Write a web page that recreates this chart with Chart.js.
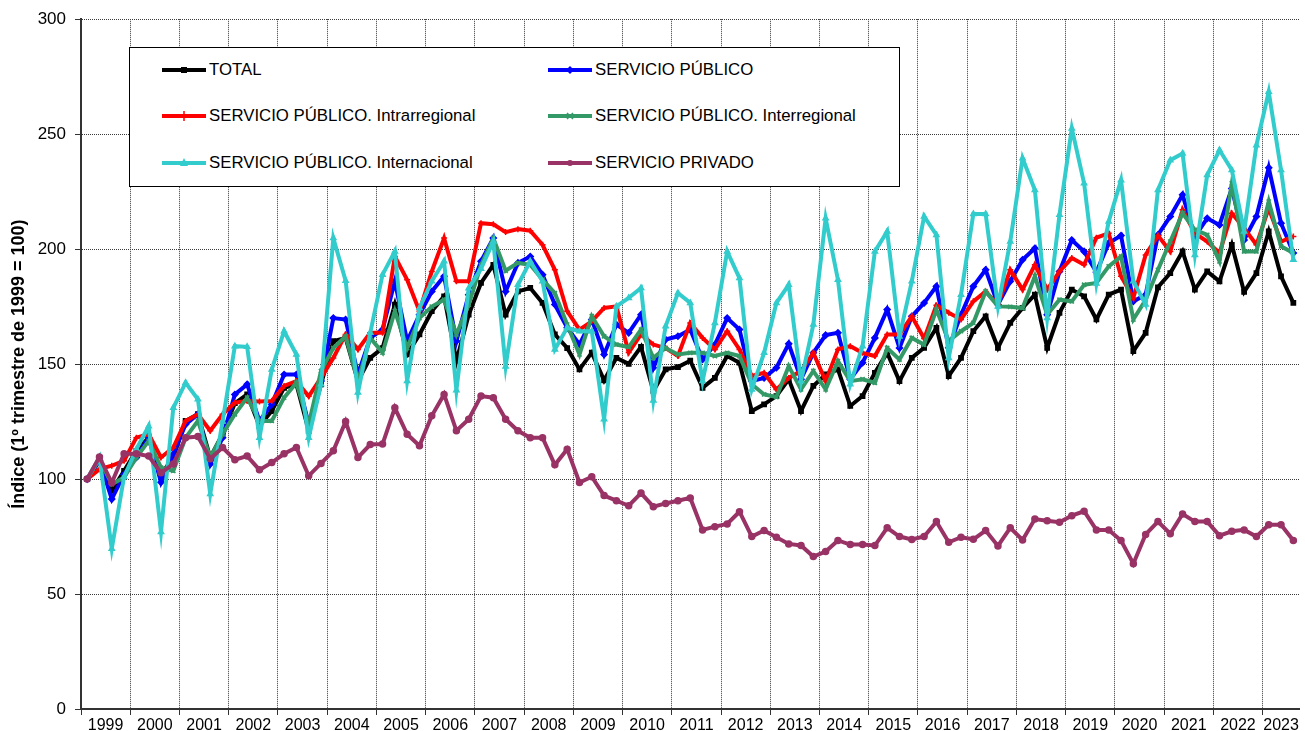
<!DOCTYPE html>
<html>
<head>
<meta charset="utf-8">
<script src="https://cdn.jsdelivr.net/npm/chart.js@4/dist/chart.umd.min.js"></script>
<style>
html,body{margin:0;padding:0;background:#fff;}
#wrap{position:relative;width:1305px;height:731px;}
#legend{position:absolute;left:129px;top:47px;width:769px;height:138px;border:1px solid #000;background:#fff;
 font-family:"Liberation Sans",Arial,sans-serif;font-size:16.8px;color:#000;}
.item{position:absolute;display:flex;align-items:center;white-space:nowrap;height:20px;}
.item svg{margin-right:3px;}
</style>
</head>
<body>
<div id="wrap">
<canvas id="c" width="1305" height="731"></canvas>
<div id="legend"></div>
</div>
<script>
// años (etiquetas del eje X), un dato por trimestre desde I-1999 hasta III-2023
let years=["1999","2000","2001","2002","2003","2004","2005","2006","2007","2008","2009","2010",
 "2011","2012","2013","2014","2015","2016","2017","2018","2019","2020","2021","2022","2023"];

let total=[
 100,108,95,103.6, 112.3,118,102,109.4, 125.3,128.2,109.4,119.5, 133,136.8,123,129.6,
 139.7,141.2,121,141.2, 160,161.4,142.6,152.7, 157,175.9,154.2,162.9, 173,179.5,151.3,171.5,
 185.3,193.2,171.5,181.6, 183.1,176.6,162.9,157, 147.7,155,142.9,152.7, 150.1,157.5,138.3,147.7,
 148.7,151.5,139.7,144, 153.5,150.6,129.6,132.5, 136.1,143.4,129.6,140.5, 145.5,147.7,131.8,136.1,
 146.2,154.9,142.6,152.7, 157.1,165.8,144.8,152.7, 164.3,170.8,157.1,167.9, 174.4,180.2,157.1,172.3,
 182.4,179.5,169.4,180.2, 182.4,155.6,163.6,183.4, 189.6,199,182.4,190.3, 186,201.9,181.4,189.6,
 207.7,188.2,176.6];
let publico=[
 100,108,91.3,102, 109.4,118,98.6,110.8, 123.8,128.2,106.5,118, 136.8,141.2,125.3,132.5,
 145.5,145.5,123.8,142.6, 170,169.4,145.5,161.4, 165,186,160,171.5, 181.6,188.2,160,180.2,
 194.7,204.8,181.6,194, 196.8,188.9,175.9,165.8, 158.5,169.4,154.2,167.2, 163.6,171.5,148.4,160.7,
 162.1,165,152,158.5, 170,165,142.6,144, 148.4,158.8,143.4,154.9, 162.6,163.6,143.4,150.6,
 161.4,173.7,157,170.8, 176.6,183.8,157.1,171.5, 183.8,191,175.9,186, 195.4,200.4,171.5,190.3,
 204,199,190,202.6, 205.9,177.3,180.2,206.2, 214.2,223.6,205.5,213.4, 210.5,226.4,204,214.2,
 235.4,211.3,198.3];
let intra=[
 100,104.3,105.8,108, 118,119.5,109.4,113.7, 125.3,128.2,121,128.2, 133.2,134,133.7,134,
 140.5,142.6,136,144, 152.7,162.9,156.4,163.6, 163.6,196.8,186.7,173, 190.3,204.8,186,186,
 211.3,210.8,207.4,208.7, 208,201.9,191,173, 165,168.6,174.4,175.1, 155,162.9,158.5,157,
 153.5,167.9,161.4,156.4, 164.3,156.4,144.8,146.2, 139,144,147,154.9, 142.6,156.4,157.8,154.9,
 153.5,162.9,162.9,170.8, 161.1,175.6,172.3,169.4, 177.3,181.6,175.9,191, 182.4,193.2,182.4,190.3,
 196.1,193.2,205,206.9, 188.2,178.8,197.5,205.9, 199,217.1,206.9,203.3, 198.3,215.6,209.1,201.9,
 217.8,203.3,205.5];
let inter=[
 100,108.7,97.8,100.7, 109.4,116.6,105,103.6, 118,125.3,109.4,119.5, 128.2,135.4,125.3,125.3,
 135.4,141.9,123.8,147, 157,162.1,142.6,161.4, 155,173,157,170, 175,178,162.9,175.9,
 193,204.8,190.6,194, 193.2,186.7,180.9,167.2, 154.2,170.8,162.1,158.5, 157.4,165,152.7,157,
 154.2,154.9,154.9,153.5, 154.9,153.5,141.2,136.8, 135.7,149.1,139,147, 139,151.3,142.6,143.4,
 141.9,157,152,161.4, 158.5,173.7,160,164.3, 167.9,181.6,175.1,174.9, 174.4,188.2,171.5,178,
 177.3,184.5,185.3,192.5, 196.8,169.4,178,191, 203.3,215.6,208.4,206.2, 194.7,228.6,199,199,
 220.7,201.2,198.3];
let internac=[
 100,109.4,69.7,101, 113,123,77,131, 141.9,134.7,93.5,125, 157.8,157.5,118,147.7,
 164.3,154.2,118,141.2, 204.8,186.3,137.6,163.6, 188.9,199,142.6,174.4, 186,194.7,138.6,183,
 191.5,203.3,149,184.5, 194.7,186,156.4,165.8, 164.3,164.3,126,175.1, 178.8,183.1,134.2,166.5,
 180.9,176.6,142.6,167.9, 199,187.4,139,154.9, 176.6,184.5,142.6,167.2, 213.4,186.7,141.2,157.8,
 199,207.7,162,186, 214.2,206.2,152.7,180.2, 215.3,215.3,175.1,203.3, 239.5,225.7,170.1,214.9,
 252.5,228.6,185,212, 230,186,175.9,225.7, 238.7,241.6,197.5,232.2, 243.1,234.4,207.7,245.2,
 268.4,234.4,195.4];
let privado=[
 100,109.6,98.4,111, 111,110,102.7,106.6, 118,118.5,108.8,113.7, 108.4,110,104,107.2,
 111,113.7,101.4,106.8, 112.3,125,109.4,115, 115.2,131,119.5,114.5, 127.5,136.8,121,126,
 136.1,135.4,126,121, 118,118,106.2,113, 98.5,101,92.8,90.6, 88.4,93.9,88,89.4,
 90.6,91.8,77.9,79.3, 80.5,85.8,75,77.6, 74.7,71.8,71.1,66.3, 68.5,73.3,71.5,71.5,
 71.1,78.8,75,73.7, 75,81.5,72.5,74.7, 73.8,77.6,70.9,78.8, 73.5,82.6,81.9,81.2,
 84.1,86,77.9,77.9, 73.3,63.2,75.9,81.5, 76.2,84.8,81.5,81.5, 75.4,77.3,77.9,75,
 80.1,80.1,73.3];

let yTicks=[0,50,100,150,200,250,300];
let n=total.length;

let series=[
 {label:"TOTAL",data:total,color:"#000000",point:"rect",order:6},
 {label:"SERVICIO PÚBLICO",data:publico,color:"#0000FF",point:"rectRot",order:5},
 {label:"SERVICIO PÚBLICO. Intrarregional",data:intra,color:"#FF0000",point:"cross",order:4},
 {label:"SERVICIO PÚBLICO. Interregional",data:inter,color:"#339966",point:"crossRot",order:3},
 {label:"SERVICIO PÚBLICO. Internacional",data:internac,color:"#33CCCC",point:"triangle",order:2},
 {label:"SERVICIO PRIVADO",data:privado,color:"#993366",point:"circle",order:1}
];

const FONT='"Liberation Sans", Arial, sans-serif';
function isBoundary(v){ return Math.abs(((v+0.5)%4))<1e-6 || Math.abs(v-(n-0.5))<1e-6; }

let chart=new Chart(document.getElementById("c"),{
 type:"line",
 data:{datasets:series.map(s=>({
   label:s.label,
   data:s.data.map((v,i)=>({x:i,y:v})),
   borderColor:s.color,backgroundColor:s.color,
   borderWidth:4,pointStyle:s.point,pointRadius:3,pointBorderWidth:1.5,
   pointBorderColor:s.color,pointBackgroundColor:s.color,
   tension:0,order:s.order
 }))},
 options:{
  responsive:false,animation:false,
  layout:{padding:{left:0,right:3,top:17,bottom:0}},
  plugins:{legend:{display:false},tooltip:{enabled:false}},
  scales:{
   x:{type:"linear",min:-0.5,max:n-0.5,
    afterFit(s){s.height=22;},
    afterBuildTicks(scale){
      let t=[];
      years.forEach((y,k)=>{
        let a=4*k-0.5, b=Math.min(4*k+3.5,n-0.5);
        t.push({value:a});
        t.push({value:(a+b)/2});
      });
      t.push({value:n-0.5});
      t.sort((p,q)=>p.value-q.value);
      scale.ticks=t;
    },
    ticks:{autoSkip:false,maxRotation:0,minRotation:0,padding:1,color:"#000",
      font:{family:FONT,size:16},
      callback(v){ return isBoundary(v)?"":years[Math.floor((v+0.5)/4)]; }},
    grid:{tickLength:6,lineWidth:1,
      color:c=>(isBoundary(c.tick.value)&&c.tick.value<n-1)?"#3a3a3a":"rgba(0,0,0,0)",
      tickColor:c=>(isBoundary(c.tick.value)&&c.tick.value<n-1)?"#333":"rgba(0,0,0,0)"},
    border:{display:true,color:"#333",width:2,dash:[1,1]}
   },
   y:{min:0,max:300,
    afterFit(s){s.width=81;},
    afterBuildTicks(scale){ scale.ticks=yTicks.map(v=>({value:v})); },
    ticks:{color:"#000",padding:9,font:{family:FONT,size:17}},
    grid:{tickLength:6,lineWidth:1,color:"#3a3a3a",tickColor:"#333"},
    border:{display:true,color:"#333",width:2,dash:[1,1]},
    title:{display:true,text:"Índice (1º trimestre de 1999 = 100)",color:"#000",
      font:{family:FONT,size:18,weight:"bold"},padding:{top:8,bottom:0}}
   }
  }
 }
});

// leyenda en recuadro, dos columnas
function marker(style,color){
 let c=22,m=5;
 switch(style){
  case "rect": return `<rect x="${c-3}" y="${m-3}" width="6" height="6" fill="${color}"/>`;
  case "rectRot": return `<polygon points="${c},${m-4} ${c+4},${m} ${c},${m+4} ${c-4},${m}" fill="${color}"/>`;
  case "cross": return `<path d="M${c} ${m-5}V${m+5}" stroke="${color}" stroke-width="1.5"/>`;
  case "crossRot": return `<path d="M${c-3} ${m-3}L${c+3} ${m+3}M${c+3} ${m-3}L${c-3} ${m+3}" stroke="${color}" stroke-width="1.5"/>`;
  case "triangle": return `<polygon points="${c},${m-5} ${c+4},${m+3} ${c-4},${m+3}" fill="${color}"/>`;
  default: return `<circle cx="${c}" cy="${m}" r="3" fill="${color}"/>`;
 }
}
let leg=document.getElementById("legend");
let rowsY=[12,58,105], colsX=[32,418];
series.forEach((s,i)=>{
 let d=document.createElement("div");
 d.className="item";
 d.style.left=colsX[i%2]+"px";
 d.style.top=rowsY[Math.floor(i/2)]+"px";
 d.innerHTML=`<svg width="44" height="10"><line x1="0" y1="5" x2="44" y2="5" stroke="${s.color}" stroke-width="4"/>${marker(s.point,s.color)}</svg><span>${s.label}</span>`;
 leg.appendChild(d);
});
</script>
</body>
</html>
